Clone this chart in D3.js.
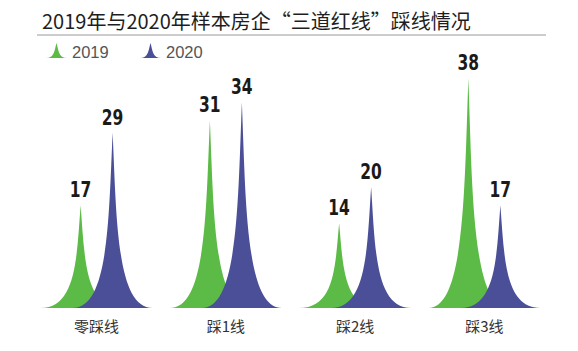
<!DOCTYPE html>
<html><head><meta charset="utf-8">
<script src="https://cdn.jsdelivr.net/npm/d3@7"></script>
<style>body{margin:0;background:#fff}svg{display:block}</style>
</head><body>
<svg id="c" width="578" height="351"></svg>
<script>
const title = "2019年与2020年样本房企“三道红线”踩线情况";
const categories = ["零踩线", "踩1线", "踩2线", "踩3线"];
const seriesNames = ["2019", "2020"];
const values2019 = [17, 31, 14, 38];
const values2020 = [29, 34, 20, 17];
const colors = ["#5cbb46", "#4b4f98"];

const svg = d3.select("#c");
const base = 308;
const x = d3.scaleBand().domain(categories).range([32, 549]);
const offset = d3.scaleOrdinal().domain(seriesNames).range([-16, 16]);
const y = d3.scaleLinear().domain([0, 40]).range([base, base - 242]);
const hw = 40;

function spike(cx, y0, y1, w, k = 0.1) {
  const h = y0 - y1;
  return `M${cx - w},${y0} C${cx - k * w},${y0} ${cx - k * w},${y1 + h * 0.5} ${cx},${y1}` +
         ` C${cx + k * w},${y1 + h * 0.5} ${cx + k * w},${y0} ${cx + w},${y0} Z`;
}

// title
svg.append("text").attr("x", 42).attr("y", 29)
  .attr("font-family", "'Noto Sans CJK SC', sans-serif").attr("font-size", 20)
  .attr("font-weight", 400).attr("fill", "#1e1e1e").text(title);
svg.append("line").attr("x1", 37).attr("x2", 546).attr("y1", 35).attr("y2", 35)
  .attr("stroke", "#9a9a9a").attr("stroke-width", 1.2);

// legend
const legX = [46, 140];
seriesNames.forEach((s, i) => {
  svg.append("path").attr("d", spike(legX[i] + 10.5, 58, 43, 10.5, 0.2)).attr("fill", colors[i]);
  svg.append("text").attr("x", legX[i] + 26).attr("y", 58)
    .attr("font-family", "'Liberation Sans', Arial, sans-serif").attr("font-size", 16.5)
    .attr("fill", "#555").text(s);
});

const series = [values2019, values2020];
const cxOf = (i, si) => x(categories[i]) + x.bandwidth() / 2 + offset(seriesNames[si]);
series.forEach((vals, si) => {
  svg.append("g").selectAll("path").data(vals).join("path")
    .attr("d", (v, i) => spike(cxOf(i, si), base, y(v), hw))
    .attr("fill", colors[si]);
});
series.forEach((vals, si) => {
  svg.append("g").selectAll("text").data(vals).join("text")
    .attr("x", (v, i) => cxOf(i, si))
    .attr("y", v => y(v) - 8)
    .attr("text-anchor", "middle")
    .attr("font-family", "'DejaVu Sans Condensed', 'DejaVu Sans', sans-serif")
    .attr("font-weight", "bold").attr("font-size", 21).attr("fill", "#1a1a1a")
    .attr("transform", (v, i) => `translate(${cxOf(i, si)},${y(v) - 8}) scale(0.82,1) translate(${-cxOf(i, si)},${-(y(v) - 8)})`)
    .text(v => v);
});

// category labels
svg.append("g").selectAll("text").data(categories).join("text")
  .attr("x", d => x(d) + x.bandwidth() / 2).attr("y", 332)
  .attr("text-anchor", "middle")
  .attr("font-family", "'Noto Sans CJK SC', sans-serif").attr("font-size", 15)
  .attr("fill", "#333").text(d => d);
</script>
</body></html>
